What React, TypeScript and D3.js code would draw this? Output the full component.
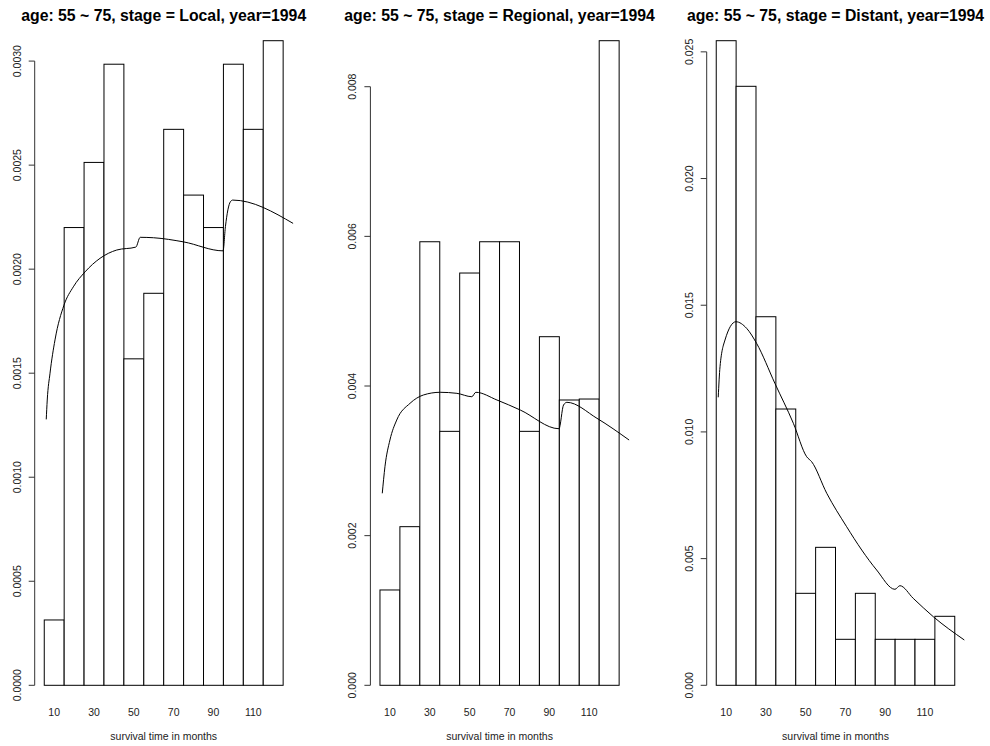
import { useEffect, useRef } from "react";
import * as d3 from "d3";

// bins of 10 months, labelled at their centres
const binEdges = [5, 15, 25, 35, 45, 55, 65, 75, 85, 95, 105, 115, 125];
const xTickValues = [10, 30, 50, 70, 90, 110];

const localDensity = [0.000314, 0.0022, 0.002513, 0.002985, 0.001569, 0.001884, 0.002672, 0.002356, 0.0022, 0.002985, 0.002672, 0.003098];
const regionalDensity = [0.001274, 0.00212, 0.005928, 0.003394, 0.00551, 0.005928, 0.005928, 0.003394, 0.004659, 0.003813, 0.003826, 0.008615];
const distantDensity = [0.02544, 0.02364, 0.014546, 0.010904, 0.00363, 0.005445, 0.001815, 0.00363, 0.001815, 0.001815, 0.001815, 0.002723];

const localCurveMonths = [6.0, 6.5, 7.9, 10.4, 14.9, 19.6, 25.5, 33.0, 41.4, 51.0, 53.2, 59.9, 75.0, 94.8, 96.0, 98.5, 99.7, 130];
const localCurveDensity = [0.001278, 0.001371, 0.0015, 0.00166, 0.001827, 0.001915, 0.001987, 0.002052, 0.002092, 0.002106, 0.002153, 0.002151, 0.002131, 0.002088, 0.002204, 0.002324, 0.002332, 0.00222];

const regionalCurveMonths = [6.16, 7.5, 10.0, 13.4, 20.1, 26.8, 35.2, 43.6, 51.1, 53.1, 63.7, 75.4, 94.8, 97.1, 98.8, 113.9, 130];
const regionalCurveDensity = [0.002566, 0.002921, 0.003278, 0.003545, 0.003769, 0.00388, 0.003916, 0.003902, 0.003857, 0.003916, 0.003813, 0.003679, 0.003429, 0.003746, 0.003782, 0.003568, 0.003278];

const distantCurveMonths = [6.0, 6.9, 9.4, 14.9, 20.3, 25.3, 34.5, 43.8, 50.5, 53.0, 60.6, 70.6, 78.2, 85.7, 94.9, 97.4, 104.1, 114.2, 129.8];
const distantCurveDensity = [0.011366, 0.012573, 0.013627, 0.014349, 0.014088, 0.013496, 0.011918, 0.01034, 0.009021, 0.008824, 0.007577, 0.006259, 0.005339, 0.00455, 0.003788, 0.003931, 0.003433, 0.002707, 0.001788];

const localTicks = [0, 0.0005, 0.001, 0.0015, 0.002, 0.0025, 0.003];
const regionalTicks = [0, 0.002, 0.004, 0.006, 0.008];
const distantTicks = [0, 0.005, 0.01, 0.015, 0.02, 0.025];

const panels = [
  { title: "age: 55 ~ 75, stage = Local, year=1994", bars: localDensity, cx: localCurveMonths, cy: localCurveDensity, ticks: localTicks, fmt: ".4f", left: 34.7, right: 292.7 },
  { title: "age: 55 ~ 75, stage = Regional, year=1994", bars: regionalDensity, cx: regionalCurveMonths, cy: regionalCurveDensity, ticks: regionalTicks, fmt: ".3f", left: 370.4, right: 628.7 },
  { title: "age: 55 ~ 75, stage = Distant, year=1994", bars: distantDensity, cx: distantCurveMonths, cy: distantCurveDensity, ticks: distantTicks, fmt: ".3f", left: 706.7, right: 964.3 },
];

const App = () => {
  const svgRef = useRef<SVGSVGElement>(null);

  useEffect(() => {
    const svg = d3.select(svgRef.current);
    svg.selectAll("*").remove();
    const font = "'Liberation Sans', Arial, Helvetica, sans-serif";

    panels.forEach((p) => {
      const g = svg.append("g");

      const x = d3.scaleLinear().domain([0.2, 129.8]).range([p.left, p.right]);
      const y = d3.scaleLinear().domain([0, d3.max(p.bars) as number]).range([685.3, 40.7]);

      // bars
      g.selectAll("rect")
        .data(p.bars)
        .enter()
        .append("rect")
        .attr("x", (d, i) => x(binEdges[i]))
        .attr("y", (d) => y(d))
        .attr("width", (d, i) => x(binEdges[i + 1]) - x(binEdges[i]))
        .attr("height", (d) => y(0) - y(d))
        .attr("fill", "white")
        .attr("stroke", "black")
        .attr("stroke-width", 1);

      // density curve
      const pts = p.cx.map((m, i) => [m, p.cy[i]] as [number, number]);
      const line = d3
        .line<[number, number]>()
        .x((d) => x(d[0]))
        .y((d) => y(d[1]))
        .curve(d3.curveMonotoneX);
      g.append("path")
        .attr("d", line(pts))
        .attr("fill", "none")
        .attr("stroke", "black")
        .attr("stroke-width", 1);

      // y axis (R style: line spans first to last tick)
      const ticks = p.ticks;
      g.append("line")
        .attr("x1", p.left).attr("x2", p.left)
        .attr("y1", y(ticks[0])).attr("y2", y(ticks[ticks.length - 1]))
        .attr("stroke", "#333");
      const fmt = d3.format(p.fmt);
      ticks.forEach((t) => {
        g.append("line")
          .attr("x1", p.left - 6).attr("x2", p.left)
          .attr("y1", y(t)).attr("y2", y(t))
          .attr("stroke", "#333");
        g.append("text")
          .attr("transform", `translate(${p.left - 14},${y(t)}) rotate(-90)`)
          .attr("text-anchor", "middle")
          .attr("font-family", font)
          .attr("font-size", 10.5)
          .attr("fill", "#222")
          .text(fmt(t));
      });

      // x tick labels only
      xTickValues.forEach((t) => {
        g.append("text")
          .attr("x", x(t))
          .attr("y", 715.5)
          .attr("text-anchor", "middle")
          .attr("font-family", font)
          .attr("font-size", 10.5)
          .attr("fill", "#222")
          .text(t);
      });

      const mid = (p.left + p.right) / 2;
      g.append("text")
        .attr("x", mid)
        .attr("y", 740)
        .attr("text-anchor", "middle")
        .attr("font-family", font)
        .attr("font-size", 10.5)
        .attr("fill", "#222")
        .text("survival time in months");

      g.append("text")
        .attr("x", mid)
        .attr("y", 20.8)
        .attr("text-anchor", "middle")
        .attr("font-family", font)
        .attr("font-size", 15.8)
        .attr("font-weight", "bold")
        .attr("fill", "black")
        .text(p.title);
    });
  }, []);

  return (
    <svg
      ref={svgRef}
      width={990}
      height={746}
      style={{ position: "absolute", left: 0, top: 0, background: "white" }}
    ></svg>
  );
};

export default App;
